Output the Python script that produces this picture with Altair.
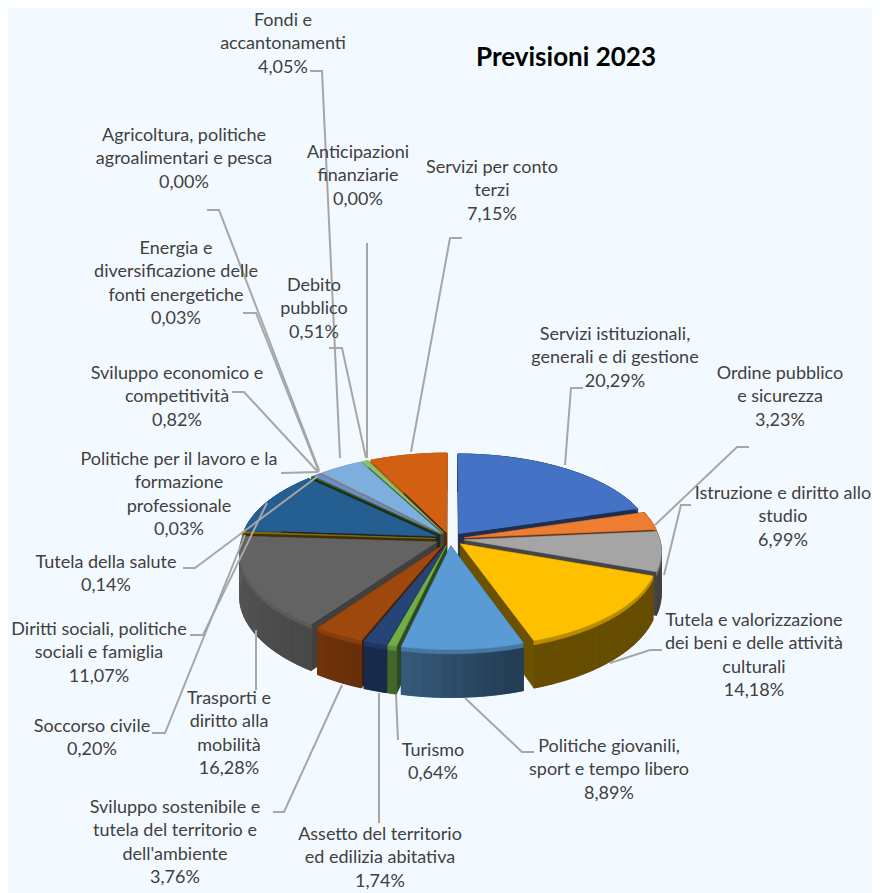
import math
import numpy as np
import pandas as pd
import altair as alt

# ---- chart values -------------------------------------------------------
categories = [
    "Servizi istituzionali,\ngenerali e di gestione",
    "Ordine pubblico\ne sicurezza",
    "Istruzione e diritto allo\nstudio",
    "Tutela e valorizzazione\ndei beni e delle attività\nculturali",
    "Politiche giovanili,\nsport e tempo libero",
    "Turismo",
    "Assetto del territorio\ned edilizia abitativa",
    "Sviluppo sostenibile e\ntutela del territorio e\ndell'ambiente",
    "Trasporti e\ndiritto alla\nmobilità",
    "Soccorso civile",
    "Diritti sociali, politiche\nsociali e famiglia",
    "Tutela della salute",
    "Sviluppo economico e\ncompetitività",
    "Politiche per il lavoro e la\nformazione\nprofessionale",
    "Agricoltura, politiche\nagroalimentari e pesca",
    "Energia e\ndiversificazione delle\nfonti energetiche",
    "Fondi e\naccantonamenti",
    "Debito\npubblico",
    "Anticipazioni\nfinanziarie",
    "Servizi per conto\nterzi",
]
values = [20.29, 3.23, 6.99, 14.18, 8.89, 0.64, 1.74, 3.76, 16.28, 0.20,
          11.07, 0.14, 0.82, 0.03, 0.00, 0.03, 4.05, 0.51, 0.00, 7.15]
colors = ["#4472C4", "#ED7D31", "#A5A5A5", "#FFC000", "#5B9BD5", "#70AD47", "#264478",
          "#9E480E", "#636363", "#997300", "#255E91", "#43682B", "#698ED0", "#F1975A",
          "#B7B7B7", "#FFCD33", "#7CAFDD", "#8CC168", "#335AA1", "#D26012"]

# ---- layout (page pixels), kept apart from the values -------------------
label_centers = [
    (615, 335), (780, 374), (783, 494), (754, 621), (609, 747), (433, 751), (380, 835),
    (175, 808), (229, 699), (92, 727), (99, 630), (106, 563), (177, 374), (179, 460),
    (184, 136), (176, 249), (283, 21), (314, 286), (358, 153), (492, 168),
]
leaders = [
    [(565, 465), (571, 388), (583, 388)], [(655, 525), (737, 447), (749, 447)],
    [(664, 575), (681, 505), (691, 505)], [(610, 663), (650, 650), (662, 650)],
    [(465, 698), (522, 752), (534, 752)], [(396, 695), (398, 740)],
    [(379, 693), (379, 823)], [(342, 685), (284, 812), (273, 812)],
    [(256, 630), (256, 690)], [(245, 535), (165, 733), (152, 733)],
    [(267, 503), (203, 635), (190, 635)], [(318, 476), (195, 568), (183, 568)],
    [(318, 472), (244, 392), (232, 392)], [(318, 472), (281, 473)],
    [(319, 470), (219, 210), (207, 210)], [(319, 472), (256, 313), (243, 313)],
    [(340, 458), (322, 71), (310, 71)], [(366, 458), (342, 348), (329, 348)],
    [(367, 458), (367, 243)], [(411, 452), (450, 238), (462, 238)],
]
CX, CY, A, B, P, DEPTH, EXPLODE = 450, 539, 195, 90, 0.116, 42, 0.075
LINE_H, PAGE = 23.4, 8
W, H = 880 - 2 * PAGE, 893 - PAGE


def project(theta, r, z, mid):
    X = r * math.sin(theta) + EXPLODE * math.sin(mid)
    Y = -r * math.cos(theta) - EXPLODE * math.cos(mid)
    s = 1 / (1 - P * Y)
    return [CX + A * X * s, CY + B * Y * s + z * DEPTH * s]


def mix(c, f, other=None):
    rgb = [int(c[i:i + 2], 16) for i in (1, 3, 5)]
    if other is None:
        out = [v * f for v in rgb]
    else:
        o = [int(other[i:i + 2], 16) for i in (1, 3, 5)]
        out = [v * f + w * (1 - f) for v, w in zip(rgb, o)]
    return "#%02x%02x%02x" % tuple(int(round(v)) for v in out)


def wall_shade(deg):
    return float(np.interp(deg, [0, 165, 195, 215, 270, 360], [0.4, 0.4, 0.6, 0.72, 0.9, 0.9]))


def poly(points, fill):
    pts = [list(p) for p in points] + [list(points[0])]
    return {"type": "Feature", "properties": {"fill": fill},
            "geometry": {"type": "Polygon", "coordinates": [pts]}}


# ---- slices, drawn back to front ----------------------------------------
total = sum(values)
spans, start = [], 0.0
for v in values:
    end = start + v / total * 2 * math.pi
    spans.append((start, end))
    start = end

order = [i for i in range(len(values)) if values[i] > 0]
order.sort(key=lambda i: project(sum(spans[i]) / 2, 1, 0, sum(spans[i]) / 2)[1])

features = []
for i in order:
    t0, t1 = spans[i]
    mid = (t0 + t1) / 2
    top = colors[i]
    cut = mix(top, 0.65 if top == "#636363" else 0.42)
    for t in (t0, t1):
        features.append(poly([project(t, 0, 0, mid), project(t, 1, 0, mid),
                              project(t, 1, 1, mid), project(t, 0, 1, mid)], cut))
    fine = np.linspace(t0, t1, max(2, int((t1 - t0) / math.radians(1)) + 2))
    mid_shade = mix(top, wall_shade(math.degrees(mid)))
    # whole outer wall first, so that the shaded bands leave no seams
    features.append(poly([project(t, 1, 0, mid) for t in fine]
                         + [project(t, 1, 1, mid) for t in fine[::-1]], mid_shade))
    n = max(1, int((t1 - t0) / math.radians(2.5)))
    edges = np.linspace(t0, t1, n + 1)
    for a, b in zip(edges[:-1], edges[1:]):
        shade = mix(top, wall_shade(math.degrees((a + b) / 2)))
        sub = np.linspace(a, b, 4)
        features.append(poly([project(t, 1, 0, mid) for t in sub]
                             + [project(t, 1, 1, mid) for t in sub[::-1]], shade))
    features.append(poly([project(t, 1, 0, mid) for t in fine]
                         + [project(t, 1, 0.09, mid) for t in fine[::-1]],
                         mix(top, 0.55, mid_shade)))
    features.append(poly([project(t0, 0, 0, mid)] + [project(t, 1, 0, mid) for t in fine], top))

pie = alt.Chart(alt.Data(values={"type": "FeatureCollection", "features": features},
                         format=alt.DataFormat(property="features", type="json"))).mark_geoshape(
    strokeWidth=0.6
).encode(
    fill=alt.Color("properties.fill:N", scale=None, legend=None),
    stroke=alt.Color("properties.fill:N", scale=None, legend=None),
).project(type="identity", scale=1, translate=[-PAGE, -PAGE])

# ---- labels and leader lines --------------------------------------------
xs = alt.X("x:Q", scale=alt.Scale(domain=[PAGE, PAGE + W], range=[0, W]), axis=None)
ys = alt.Y("y:Q", scale=alt.Scale(domain=[PAGE, PAGE + H], range=[0, H]), axis=None)

text_rows = []
for name, v, (cx, y0) in zip(categories, values, label_centers):
    lines = name.split("\n") + [f"{v:.2f}%".replace(".", ",")]
    for k, line in enumerate(lines):
        text_rows.append({"x": cx, "y": y0 + k * LINE_H, "t": line})
labels = alt.Chart(pd.DataFrame(text_rows)).mark_text(
    font="Lato", fontSize=18, color="#404040", align="center", baseline="middle"
).encode(x=xs, y=ys, text="t:N")

line_rows = []
for i, path in enumerate(leaders):
    for k, (x, y) in enumerate(path):
        line_rows.append({"x": x, "y": y, "k": k, "id": i})
lines = alt.Chart(pd.DataFrame(line_rows)).mark_line(color="#A6A6A6", strokeWidth=2).encode(
    x=xs, y=ys, detail="id:N", order="k:Q")

title = alt.Chart(pd.DataFrame([{"x": 566, "y": 58, "t": "Previsioni 2023"}])).mark_text(
    font="Lato", fontSize=26, fontWeight="bold", color="#000000", align="center", baseline="middle"
).encode(x=xs, y=ys, text="t:N")

chart = alt.layer(pie, lines, labels, title).resolve_scale(x="shared", y="shared").properties(
    width=W, height=H, padding=0, background="#F3FAFF"
).configure_view(stroke=None)

chart.save("out.html", embed_options={"renderer": "svg", "actions": False})
